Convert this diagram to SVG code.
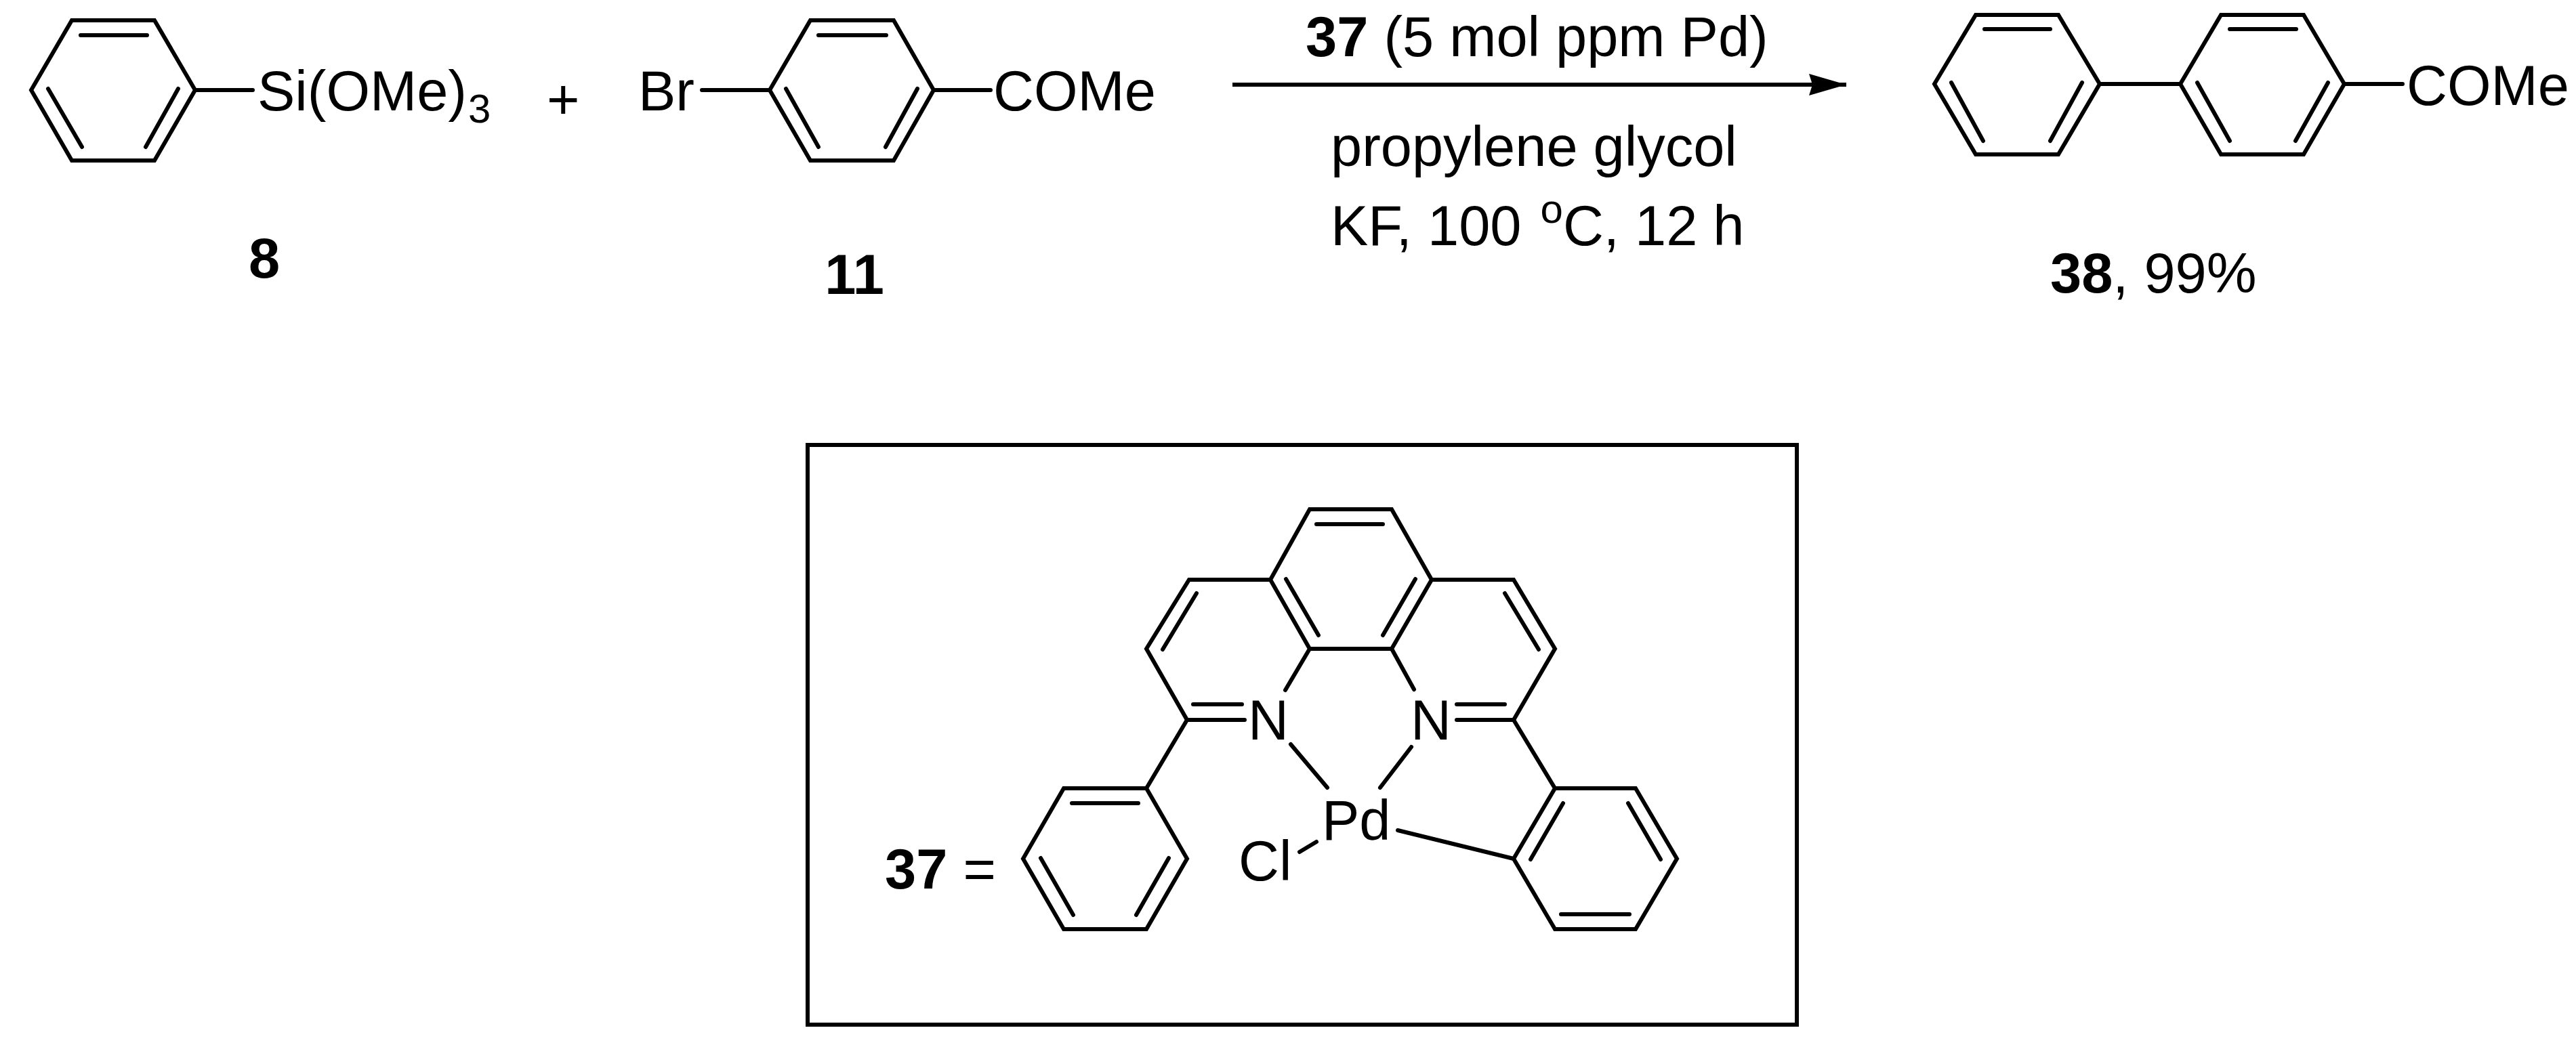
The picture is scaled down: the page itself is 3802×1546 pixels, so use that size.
<svg xmlns="http://www.w3.org/2000/svg" width="3802" height="1546" viewBox="0 0 3802 1546">
<style>
.b{fill:none;stroke:#000;stroke-width:6;stroke-linejoin:miter;stroke-linecap:round}
.c{fill:none;stroke:#000;stroke-width:6;stroke-linejoin:miter;stroke-linecap:round}
text{font-family:"Liberation Sans",Arial,sans-serif;font-size:83px;fill:#000}
.bd{font-weight:bold}
.s{font-size:60px}
</style>
<defs>
<marker id="ah" markerUnits="userSpaceOnUse" markerWidth="60" markerHeight="34" refX="55" refY="17" orient="auto"><path d="M0 1L55 17L0 33L5 17Z" fill="#000"/></marker>
</defs>
<rect width="3802" height="1546" fill="#fff"/>
<g id="compound-8">
<path class="b" d="M46 133L106 30H228L288 133L228 237H106ZM119 52H217M71 131L121 217M263 131L215 217M288 133H373"/>
<text x="380" y="163">Si(OMe)</text><text class="s" x="691" y="181">3</text>
<text class="bd" x="390" y="410" text-anchor="middle">8</text>
</g>
<g id="plus"><text x="807" y="175">+</text></g>
<g id="compound-11">
<text x="942" y="163">Br</text>
<path class="b" d="M1136 133L1196 30H1319L1378 133L1319 237H1196ZM1208 52H1308M1160 131L1208 217M1354 131L1307 217M1036 133H1136M1378 133H1462"/>
<text x="1466" y="163">COMe</text>
<text class="bd" x="1261" y="434" text-anchor="middle">11</text>
</g>
<g id="connectors">
<path d="M1819 125H2725" stroke="#000" stroke-width="6" fill="none" marker-end="url(#ah)"/>
</g>
<g id="conditions">
<text x="1927" y="83"><tspan class="bd">37</tspan> (5 mol ppm Pd)</text>
<text x="1964" y="245">propylene glycol</text>
<text x="1964" y="362">KF, 100 <tspan class="s" dx="5" dy="-33">o</tspan><tspan dy="33">C, 12 h</tspan></text>
</g>
<g id="compound-38">
<path class="b" d="M2855 124L2916 22H3038L3099 124L3038 228H2916ZM2929 43H3026M2880 122L2927 208M3073 122L3026 208M3099 124H3218M3218 124L3278 22H3400L3460 124L3400 228H3278ZM3291 43H3389M3243 122L3291 208M3436 122L3388 208M3460 124H3546"/>
<text x="3552" y="155">COMe</text>
<text x="3026" y="432"><tspan class="bd">38</tspan>, 99%</text>
</g>
<g id="catalyst-37">
<rect class="b" x="1192" y="657" width="1460" height="856"/>
<path class="c" d="M1875 856H1755L1692 958L1752 1063H1837M1761 1040H1833M1766 876L1716 959M1875 856L1933 958H2054L2113 856L2054 752H1933L1875 856M1943 774H2041M1898 855L1946 938M2089 855L2041 938M2113 856H2234L2295 958L2234 1063H2150M2150 1040H2221M2221 876L2271 959M1933 958L1897 1019M2054 958L2087 1018"/>
<path class="c" d="M1752 1063L1692 1164M1692 1164L1752 1268L1692 1372H1570L1510 1268L1570 1164ZM1582 1186H1680M1536 1267L1584 1351M1725 1267L1677 1351"/>
<path class="c" d="M2234 1063L2295 1164M2295 1164H2414L2475 1268L2414 1372H2295L2234 1268ZM2307 1186L2259 1269M2403 1186L2451 1269M2304 1350H2405"/>
<path class="c" d="M1905 1099L1959 1163M2083 1103L2037 1163M2063 1226L2234 1268M1918 1258L1943 1243"/>
<text x="1842" y="1092">N</text><text x="2082" y="1092">N</text>
<text x="1951" y="1240">Pd</text><text x="1828" y="1300">Cl</text>
<text x="1306" y="1312"><tspan class="bd">37</tspan> =</text>
</g>
</svg>
